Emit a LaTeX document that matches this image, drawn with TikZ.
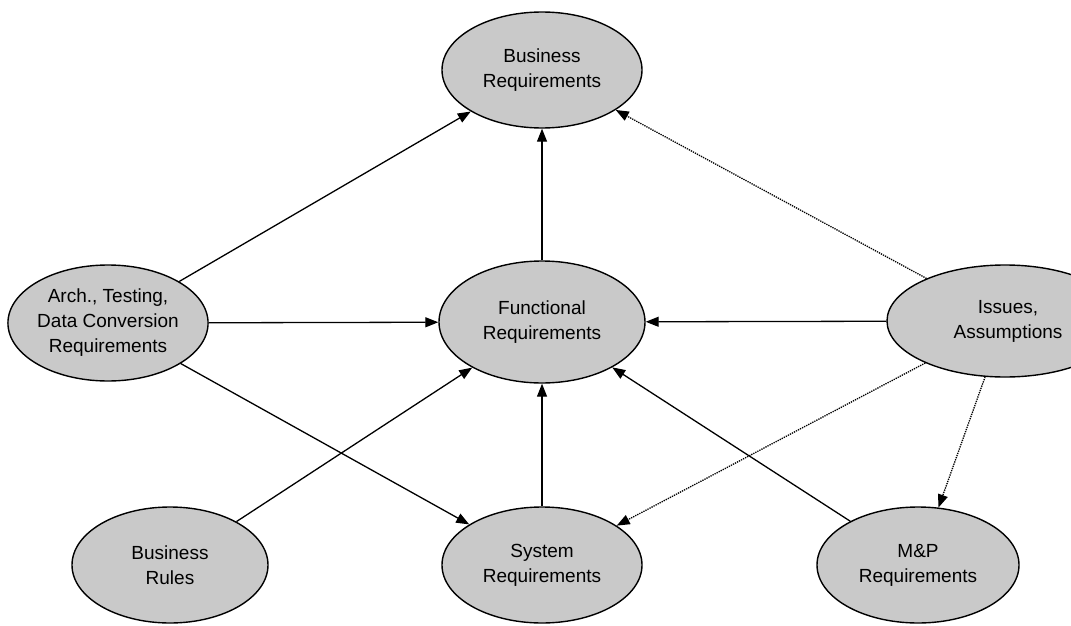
\documentclass[tikz,border=0pt]{standalone}
\usepackage{fontspec}
\setmainfont{Liberation Sans}
\usetikzlibrary{shapes.geometric,arrows.meta}
\begin{document}
\begin{tikzpicture}[x=1pt,y=-1pt,
  req/.style={ellipse, draw=black, line width=1.4pt, fill=gray!42,
    inner sep=0pt, align=center, minimum width=200pt, minimum height=116pt,
    font=\fontsize{19}{25}\selectfont},
  link/.style={line width=1.3pt, -{Triangle[length=13pt,width=10pt]}},
  weak/.style={link, densely dotted}]
\useasboundingbox (0,0) rectangle (1071,626);

% requirement areas
\node[req] (br)     at (542,70)  {Business\\Requirements};
\node[req] (arch)   at (108,323) {Arch., Testing,\\Data Conversion\\Requirements};
\node[req, minimum width=206pt, minimum height=122pt] (func) at (542,322) {Functional\\Requirements};
\node[req, minimum width=236pt, minimum height=112pt] (issues) at (1005,321) {\hspace*{6pt}Issues,\\\hspace*{6pt}Assumptions};
\node[req, minimum width=196pt] (rules) at (170,565) {Business\\Rules};
\node[req] (sys)    at (542,565) {System\\Requirements};
\node[req, minimum width=202pt] (mp) at (918,565) {M\&P\\Requirements};

% solid dependencies
\draw[link] (arch) -- (br);
\draw[link] (arch) -- (func);
\draw[link] (arch) -- (sys);
\draw[link] (func) -- (br);
\draw[link] (sys) -- (func);
\draw[link] (rules) -- (func);
\draw[link] (mp) -- (func);
\draw[link] (issues) -- (func);

% dotted dependencies
\draw[weak] (issues) -- (br);
\draw[weak] (issues) -- (sys);
\draw[weak] (issues) -- (mp);
\end{tikzpicture}
\end{document}
